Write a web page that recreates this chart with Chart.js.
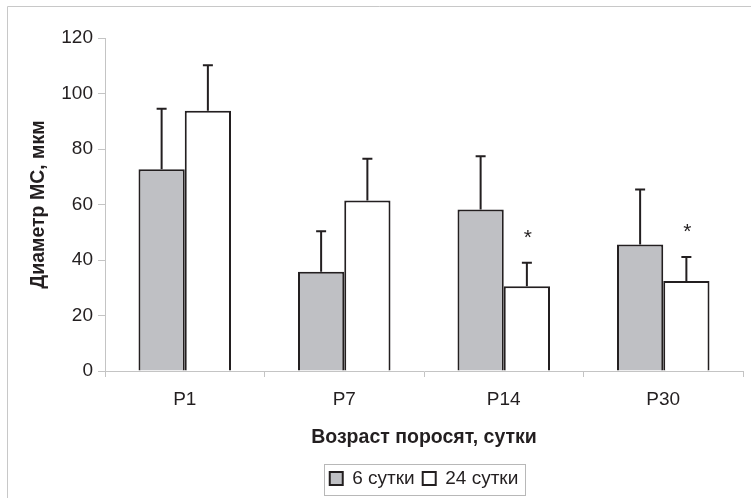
<!DOCTYPE html>
<html>
<head>
<meta charset="utf-8">
<script src="https://cdn.jsdelivr.net/npm/chart.js@4/dist/chart.umd.min.js"></script>
<style>
  html, body { margin: 0; padding: 0; background: #fff; }
  #wrap { position: relative; width: 751px; height: 498px; }
</style>
</head>
<body>
<div id="wrap"><canvas id="c"></canvas></div>
<script>
const categories = ['P1', 'P7', 'P14', 'P30'];
const series6 = [72.7, 35.8, 58.2, 45.6];
const series6Err = [21.8, 14.6, 19.2, 19.8];
const series24 = [93.8, 61.4, 30.5, 32.4];
const series24Err = [16.4, 15.1, 8.5, 8.7];
const series24Marks = ['', '', '*', '*'];
const yTicks = [0, 20, 40, 60, 80, 100, 120];

const FONT = '"Liberation Sans", Arial, sans-serif';
const INK = '#231f20';
const AXIS = '#c4c4c4';

// error bars (upper only) + asterisks
const errorBars = {
    id: 'errorBars',
    afterDatasetsDraw(chart) {
        const ctx = chart.ctx;
        const y = chart.scales.y;
        ctx.save();
        ctx.strokeStyle = INK;
        ctx.lineWidth = 2;
        chart.data.datasets.forEach((ds, di) => {
            const meta = chart.getDatasetMeta(di);
            meta.data.forEach((bar, i) => {
                const top = y.getPixelForValue(ds.data[i] + ds.errors[i]);
                ctx.beginPath();
                ctx.moveTo(bar.x, bar.y);
                ctx.lineTo(bar.x, top);
                ctx.moveTo(bar.x - 5, top);
                ctx.lineTo(bar.x + 5, top);
                ctx.stroke();
                if (ds.marks && ds.marks[i]) {
                    ctx.fillStyle = INK;
                    ctx.font = '21px ' + FONT;
                    ctx.textAlign = 'center';
                    ctx.textBaseline = 'middle';
                    ctx.fillText(ds.marks[i], bar.x + 1, top - 25);
                }
            });
        });
        ctx.restore();
    },
    afterDraw(chart) {
        const ctx = chart.ctx;
        ctx.save();
        // frame lines (top and left)
        ctx.strokeStyle = '#c8c8c8';
        ctx.lineWidth = 1;
        ctx.beginPath();
        ctx.moveTo(7.5, 498);
        ctx.lineTo(7.5, 6.5);
        ctx.lineTo(751, 6.5);
        ctx.stroke();
        // legend box
        const hb = chart.legend.legendHitBoxes;
        if (hb && hb.length) {
            const l = Math.min(...hb.map(h => h.left)) - 6;
            const r = Math.max(...hb.map(h => h.left + h.width)) + 6;
            const t = Math.min(...hb.map(h => h.top)) - 5;
            const b = Math.max(...hb.map(h => h.top + h.height)) + 7;
            ctx.strokeStyle = '#b8b8b8';
            ctx.strokeRect(Math.round(l) + 0.5, Math.round(t) + 0.5, Math.round(r - l), Math.round(b - t));
        }
        ctx.restore();
    }
};

new Chart(document.getElementById('c'), {
    type: 'bar',
    data: {
        labels: categories,
        datasets: [
            {
                label: '6 сутки',
                data: series6,
                errors: series6Err,
                backgroundColor: '#bfc0c4',
                borderColor: INK,
                borderWidth: 2,
                categoryPercentage: 0.58,
                barPercentage: 1.0
            },
            {
                label: '24 сутки',
                data: series24,
                errors: series24Err,
                marks: series24Marks,
                backgroundColor: '#ffffff',
                borderColor: INK,
                borderWidth: 2,
                categoryPercentage: 0.58,
                barPercentage: 1.0
            }
        ]
    },
    options: {
        responsive: true,
        maintainAspectRatio: false,
        animation: false,
        layout: { padding: { left: 27, right: 8, top: 38, bottom: 0 } },
        scales: {
            y: {
                min: 0,
                max: 120,
                afterBuildTicks: s => { s.ticks = yTicks.map(v => ({ value: v })); },
                afterFit: s => { s.width = 78; },
                border: { color: AXIS, width: 1 },
                grid: { drawOnChartArea: false, tickLength: 7, color: AXIS },
                ticks: { color: INK, font: { family: FONT, size: 19 }, padding: 5 },
                title: {
                    display: true,
                    text: 'Диаметр МС, мкм',
                    color: INK,
                    font: { family: FONT, size: 19.5, weight: 'bold' },
                    padding: { top: 0, bottom: 0 }
                }
            },
            x: {
                afterFit: s => { s.height = 90; },
                border: { color: AXIS, width: 1 },
                grid: { drawOnChartArea: false, tickLength: 6, color: AXIS, offset: true },
                ticks: { color: INK, font: { family: FONT, size: 19 }, padding: 11 },
                title: {
                    display: true,
                    text: 'Возраст поросят, сутки',
                    color: INK,
                    font: { family: FONT, size: 19.5, weight: 'bold' },
                    padding: { top: 10, bottom: 12 }
                }
            }
        },
        plugins: {
            legend: {
                position: 'bottom',
                fullSize: false,
                labels: {
                    color: INK,
                    font: { family: FONT, size: 19 },
                    boxWidth: 13,
                    boxHeight: 13,
                    padding: 8
                }
            },
            tooltip: { enabled: false }
        }
    },
    plugins: [errorBars]
});
</script>
</body>
</html>
